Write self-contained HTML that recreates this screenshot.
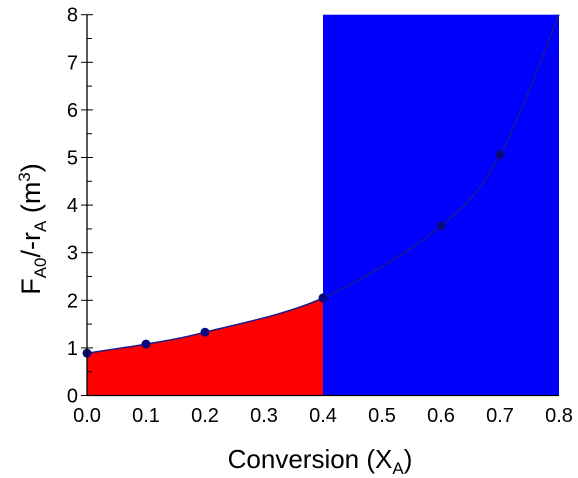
<!DOCTYPE html>
<html><head><meta charset="utf-8"><style>body{margin:0;background:#fff}svg{display:block;font-family:"Liberation Sans",sans-serif}</style></head>
<body>
<svg id="c" width="578" height="478" viewBox="0 0 578 478"></svg>
<script>
const xs=[0,0.1,0.2,0.4,0.6,0.7,0.8];
const ys=[0.89,1.08,1.33,2.05,3.56,5.06,8];
const markerCount=6;
const xTicks=["0.0","0.1","0.2","0.3","0.4","0.5","0.6","0.7","0.8"];
const yTicks=["0","1","2","3","4","5","6","7","8"];
const splitX=0.4;
const X=v=>87+v*590, Y=v=>395.5-v*47.6;
const svg=document.getElementById('c'),NS='http://www.w3.org/2000/svg';
function mk(t,a,p){const e=document.createElementNS(NS,t);for(const k in a)e.setAttribute(k,a[k]);(p||svg).appendChild(e);return e;}
function seg(a,b){
 let d='';for(let i=a;i<b;i++){const p0=[X(xs[Math.max(i-1,0)]),Y(ys[Math.max(i-1,0)])],p1=[X(xs[i]),Y(ys[i])],p2=[X(xs[i+1]),Y(ys[i+1])],p3=[X(xs[Math.min(i+2,xs.length-1)]),Y(ys[Math.min(i+2,xs.length-1)])];
 d+=` C${p1[0]+(p2[0]-p0[0])/6},${p1[1]+(p2[1]-p0[1])/6} ${p2[0]-(p3[0]-p1[0])/6},${p2[1]-(p3[1]-p1[1])/6} ${p2[0]},${p2[1]}`;}return d;}
const si=xs.indexOf(splitX);
let e;
e=mk('path',{d:`M${X(0)},${Y(0)} L${X(xs[0])},${Y(ys[0])}`+seg(0,si)+` L${X(splitX)},${Y(0)} Z`,fill:'#ff0000'});

e=mk('rect',{x:X(splitX),y:Y(8),width:X(0.8)-X(splitX),height:Y(0)-Y(8),fill:'#0000ff'});

e=mk('path',{d:`M${X(xs[0])},${Y(ys[0])}`+seg(0,xs.length-1),fill:'none',stroke:'#1a1a8c','stroke-width':1.5});

xs.slice(0,markerCount).forEach((x,i)=>{const c=mk('circle',{cx:X(x),cy:Y(ys[i]),r:4.5,fill:'#0a0a80'});
});
mk('line',{x1:X(0),y1:Y(0),x2:X(0.8),y2:Y(0),stroke:'#000','stroke-width':1.3});
mk('line',{x1:X(0),y1:Y(0),x2:X(0),y2:Y(8),stroke:'#000','stroke-width':1.3});
yTicks.forEach((t,i)=>{mk('line',{x1:X(0)-6,y1:Y(i),x2:X(0)+6,y2:Y(i),stroke:'#000'});
 if(i<8)mk('line',{x1:X(0),y1:Y(i+0.5),x2:X(0)+5,y2:Y(i+0.5),stroke:'#000'});
 const l=mk('text',{x:X(0)-9,y:Y(i)+7,'text-anchor':'end','font-size':20});l.textContent=t;
 });
xTicks.forEach((t,i)=>{const l=mk('text',{x:X(i*0.1),y:422,'text-anchor':'middle','font-size':20});l.textContent=t;
 });
e=mk('text',{x:320,y:468,'text-anchor':'middle','font-size':26});
e.innerHTML='Conversion (X<tspan font-size="17" dy="6">A</tspan><tspan dy="-6">)</tspan>';

e=mk('text',{x:0,y:0,'text-anchor':'middle','font-size':27,transform:'translate(40,229) rotate(-90)'});
e.innerHTML='F<tspan font-size="17" dy="6">A0</tspan><tspan dy="-6">/-r</tspan><tspan font-size="17" dy="6">A</tspan><tspan dy="-6"> (m</tspan><tspan font-size="17" dy="-10">3</tspan><tspan dy="10">)</tspan>';

</script>
</body></html>
